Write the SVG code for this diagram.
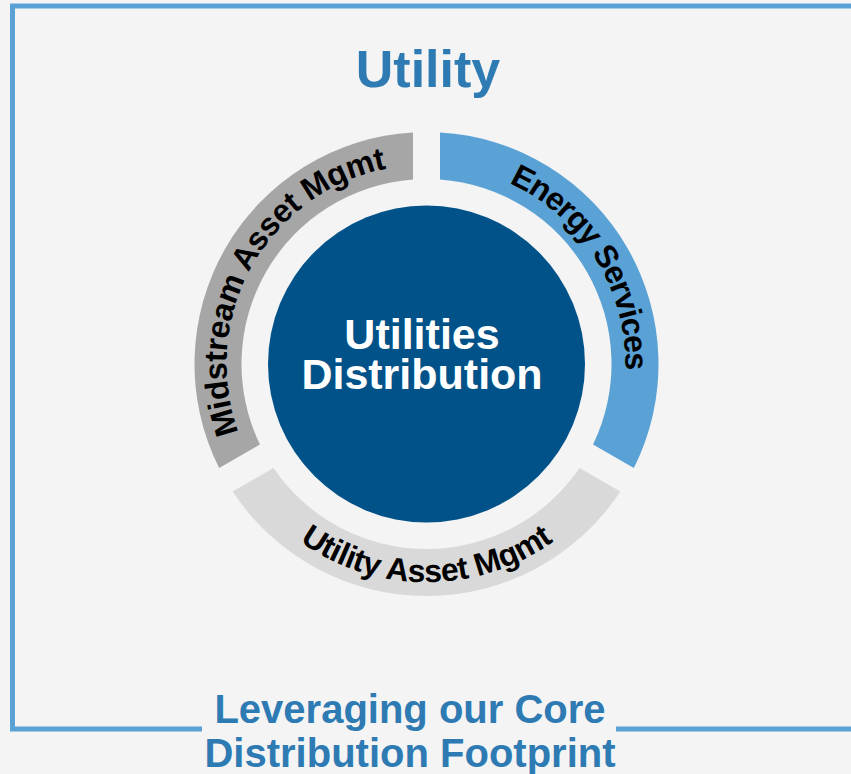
<svg xmlns="http://www.w3.org/2000/svg" width="851" height="774" viewBox="0 0 851 774">
  <style>
    .bold { font-family: "Liberation Sans", Arial, sans-serif; font-weight: bold; }
    .frame { fill: none; stroke: #5aa2d5; stroke-width: 5; }
    .ring-label { font-size: 32px; fill: #000000; }
    .blue-title { fill: #2e7bb4; }
  </style>
  <defs>
    <!-- text guides along the ring band (clockwise for the upper labels, counter-clockwise for the lower one) -->
    <path id="midstreamPath" d="M 275.5 494.5 A 199 199 0 0 1 458.4 167.5" fill="none"/>
    <path id="energyPath" d="M 385.1 169.4 A 199 199 0 0 1 583.3 486.5" fill="none"/>
    <path id="utilityPath" d="M 221.6 438.6 A 218 218 0 0 0 631.4 438.6" fill="none"/>
  </defs>

  <rect width="851" height="774" fill="#f4f4f4"/>

  <!-- outer frame, open on the right, broken for the footer caption -->
  <g id="frame">
    <path class="frame" d="M 860 6 L 12.5 6 L 12.5 729 L 202 729"/>
    <path class="frame" d="M 616 729 L 860 729"/>
  </g>

  <g id="title">
    <text class="bold blue-title" x="428" y="87" font-size="52" text-anchor="middle">Utility</text>
  </g>

  <g id="midstream">
    <path d="M 413 132.39 A 232 232 0 0 0 219.17 468.11 L 259.96 444.56 A 185 185 0 0 1 413 179.49 Z" fill="#a6a6a6"/>
    <text class="bold ring-label" letter-spacing="-0.3"><textPath href="#midstreamPath" startOffset="50%" text-anchor="middle">Midstream Asset Mgmt</textPath></text>
  </g>

  <g id="energy">
    <path d="M 440 132.39 A 232 232 0 0 1 633.83 468.11 L 593.04 444.56 A 185 185 0 0 0 440 179.49 Z" fill="#5aa2d5"/>
    <text class="bold ring-label" letter-spacing="-1.1"><textPath href="#energyPath" startOffset="50%" text-anchor="middle">Energy Services</textPath></text>
  </g>

  <g id="utility-asset">
    <path d="M 232.67 491.5 A 232 232 0 0 0 620.33 491.5 L 579.54 467.95 A 185 185 0 0 1 273.46 467.95 Z" fill="#d9d9d9"/>
    <text class="bold ring-label" letter-spacing="-0.4"><textPath href="#utilityPath" startOffset="50%" text-anchor="middle">Utility Asset Mgmt</textPath></text>
  </g>

  <g id="core">
    <circle cx="426.5" cy="364" r="158.5" fill="#02528a"/>
    <text class="bold" x="422" y="349" font-size="43" fill="#ffffff" text-anchor="middle">Utilities</text>
    <text class="bold" x="422" y="389" font-size="43" fill="#ffffff" text-anchor="middle">Distribution</text>
  </g>

  <g id="footer">
    <text class="bold blue-title" x="410" y="723" font-size="40" text-anchor="middle">Leveraging our Core</text>
    <text class="bold blue-title" x="410" y="767" font-size="40" text-anchor="middle">Distribution Footprint</text>
  </g>
</svg>
